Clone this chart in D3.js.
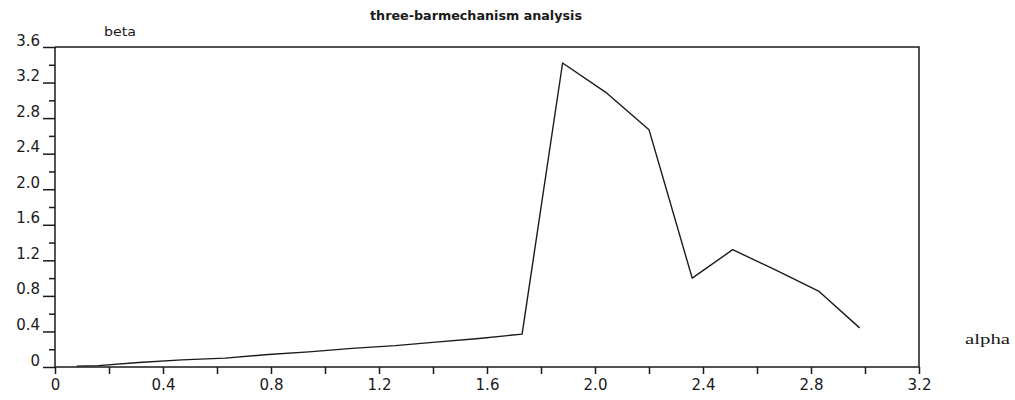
<!DOCTYPE html>
<html>
<head>
<meta charset="utf-8">
<script src="https://cdn.jsdelivr.net/npm/d3@7"></script>
<style>
  body { margin: 0; background: #fff; }
  svg { display: block; }
</style>
</head>
<body>
<div id="chart-area"></div>
<script>
// data
var alpha = [0.08, 0.16, 0.31, 0.47, 0.63, 0.79, 0.94, 1.10, 1.26, 1.41, 1.57, 1.73,
	1.88, 2.04, 2.20, 2.36, 2.51, 2.67, 2.83, 2.98];
var beta = [0.01, 0.015, 0.05, 0.08, 0.10, 0.14, 0.17, 0.21, 0.24, 0.28, 0.32, 0.37,
	3.42, 3.09, 2.67, 1.00, 1.32, 1.09, 0.85, 0.44];

var xTicks = [0, 0.4, 0.8, 1.2, 1.6, 2.0, 2.4, 2.8, 3.2];
var xTickLabels = ["0", "0.4", "0.8", "1.2", "1.6", "2.0", "2.4", "2.8", "3.2"];
var xMinor = [0.2, 0.6, 1.0, 1.4, 1.8, 2.2, 2.6, 3.0];
var yTicks = [0, 0.4, 0.8, 1.2, 1.6, 2.0, 2.4, 2.8, 3.2, 3.6];
var yTickLabels = ["0", "0.4", "0.8", "1.2", "1.6", "2.0", "2.4", "2.8", "3.2", "3.6"];
var yMinor = [0.2, 0.6, 1.0, 1.4, 1.8, 2.2, 2.6, 3.0, 3.4];

var margin = { left: 55, right: 96, top: 47, bottom: 33 };
var width = 1015 - margin.left - margin.right,
	height = 400 - margin.top - margin.bottom;

var svg = d3.select("#chart-area")
	.append("svg")
	.attr("width", 1015)
	.attr("height", 400);

var g = svg.append("g")
	.attr("transform", "translate(" + margin.left + "," + margin.top + ")");

// Scales
var x = d3.scaleLinear()
	.domain([0, 3.2])
	.range([0, width]);

var y = d3.scaleLinear()
	.domain([0, 3.6])
	.range([height, 0]);

var ink = "#1a1a1a";
var numFont = "DejaVu Sans, sans-serif";

// frame (top and right)
g.append("path")
	.attr("d", "M0,0H" + width + "V" + height)
	.attr("fill", "none")
	.attr("stroke", ink)
	.attr("stroke-width", 1.5);

// X Axis
var xAxis = d3.axisBottom(x)
	.tickValues(xTicks.concat(xMinor))
	.tickSize(7)
	.tickFormat(function (d) {
		var i = xTicks.indexOf(d);
		return i < 0 ? "" : xTickLabels[i];
	});

var xg = g.append("g")
	.attr("class", "x-axis")
	.attr("transform", "translate(0," + height + ")")
	.call(xAxis);

// Y Axis, minor then major ticks
var yMinorAxis = d3.axisLeft(y)
	.tickValues(yMinor)
	.tickSize(6)
	.tickFormat("");

var yg2 = g.append("g")
	.attr("class", "y-axis-minor")
	.call(yMinorAxis);

var yAxis = d3.axisLeft(y)
	.tickValues(yTicks)
	.tickSize(12)
	.tickFormat(function (d, i) { return yTickLabels[i]; });

var yg = g.append("g")
	.attr("class", "y-axis")
	.call(yAxis);

[xg, yg, yg2].forEach(function (a) {
	a.select(".domain").attr("stroke", ink).attr("stroke-width", 1.5);
	a.selectAll(".tick line").attr("stroke", ink).attr("stroke-width", 1.5);
	a.selectAll("text")
		.attr("fill", ink)
		.style("font-family", numFont)
		.style("font-size", "15px");
});
// the axes draw their own outer ticks, hide them
xg.select(".domain").attr("d", "M0,0H" + width);
yg.select(".domain").attr("d", "M0," + height + "V0");
yg2.select(".domain").remove();

yg.selectAll(".tick text")
	.attr("x", -15)
	.attr("dy", "-2px");

xg.selectAll(".tick text")
	.attr("y", 9)
	.attr("dy", "0.95em");

// line
var line = d3.line()
	.x(function (d) { return x(d[0]); })
	.y(function (d) { return y(d[1]); });

g.append("path")
	.datum(alpha.map(function (a, i) { return [a, beta[i]]; }))
	.attr("fill", "none")
	.attr("stroke", ink)
	.attr("stroke-width", 1.4)
	.attr("stroke-linejoin", "round")
	.attr("d", line);

// Labels
svg.append("text")
	.attr("x", 476)
	.attr("y", 20)
	.attr("text-anchor", "middle")
	.attr("textLength", 212)
	.attr("lengthAdjust", "spacingAndGlyphs")
	.style("font-family", "DejaVu Sans Condensed, DejaVu Sans, sans-serif")
	.style("font-size", "13px")
	.style("font-weight", "bold")
	.attr("fill", ink)
	.text("three-barmechanism analysis");

svg.append("text")
	.attr("x", 104)
	.attr("y", 36)
	.attr("textLength", 32)
	.attr("lengthAdjust", "spacingAndGlyphs")
	.style("font-family", "DejaVu Sans, sans-serif")
	.style("font-size", "13px")
	.attr("fill", ink)
	.text("beta");

svg.append("text")
	.attr("x", 965)
	.attr("y", 344)
	.attr("textLength", 45)
	.attr("lengthAdjust", "spacingAndGlyphs")
	.style("font-family", "Liberation Serif, serif")
	.style("font-size", "15px")
	.attr("fill", ink)
	.text("alpha");
</script>
</body>
</html>
